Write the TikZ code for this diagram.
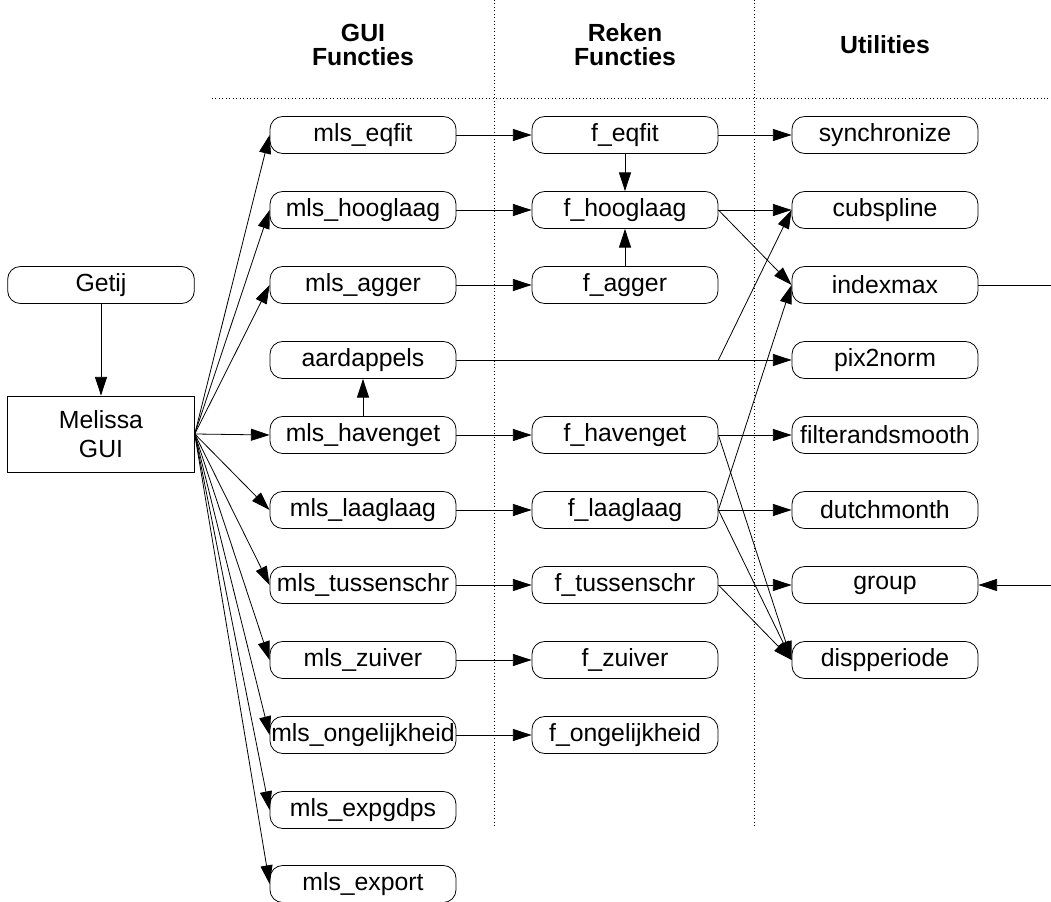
\documentclass[tikz,border=0pt]{standalone}
\usepackage{fontspec}
\setmainfont{Liberation Sans}
\usetikzlibrary{arrows.meta}

\begin{document}
\begin{tikzpicture}[x=0.75pt,y=-0.75pt,
    func/.style = {draw, rounded corners=9.5pt, minimum width=139.5pt,
                minimum height=27.75pt, inner sep=0pt,
                font=\fontsize{18.6}{21}\selectfont},
    arr/.style = {-{Triangle[length=14pt,width=9pt]}},
    colsep/.style = {dotted, line width=0.6pt},
    head/.style = {align=center, font=\fontsize{18.6}{18}\selectfont\bfseries}
                    ]
        \useasboundingbox (0,0) rectangle (1051,902);
        \tikzset{every path/.style={line width=0.6pt}}
        % kolommen
        \draw[colsep] (494,0) -- (494,828);
        \draw[colsep] (754,0) -- (754,828);
        \draw[colsep] (212,98) -- (1051,98);
        \node[head] (hgui) at (363,45) {GUI\\Functies};
        \node[head] (hreken) at (625,45) {Reken\\Functies};
        \node[head] (hutil) at (885,45) {Utilities};
        % links
        \node[func, minimum width=140pt] (getij) at (101,285) {Getij};
        \node[draw, minimum width=140pt, minimum height=57pt, align=center,
              font=\fontsize{18.6}{22}\selectfont] (melissa) at (101,434) {Melissa\\GUI};
        \draw[arr] (getij) -- (melissa);
        % GUI functies
        \foreach \y/\n/\t in {135/mlseqfit/mls\_eqfit, 210/mlshooglaag/mls\_hooglaag,
                285/mlsagger/mls\_agger, 360/aardappels/aardappels,
                435/mlshavenget/mls\_havenget, 510/mlslaaglaag/mls\_laaglaag,
                585/mlstussenschr/mls\_tussenschr, 660/mlszuiver/mls\_zuiver,
                735/mlsongelijkheid/mls\_ongelijkheid, 810/mlsexpgdps/mls\_expgdps,
                884/mlsexport/mls\_export}
            \node[func] at (363,\y) (\n) {\t};
        % reken functies
        \foreach \y/\n/\t in {135/feqfit/f\_eqfit, 210/fhooglaag/f\_hooglaag,
                285/fagger/f\_agger, 435/fhavenget/f\_havenget,
                510/flaaglaag/f\_laaglaag, 585/ftussenschr/f\_tussenschr,
                660/fzuiver/f\_zuiver, 735/fongelijkheid/f\_ongelijkheid}
            \node[func] at (625,\y) (\n) {\t};
        % utilities
        \foreach \y/\n in {135/synchronize, 210/cubspline, 285/indexmax,
                360/pix2norm, 435/filterandsmooth, 510/dutchmonth,
                585/group, 660/dispperiode}
            \node[func] at (885,\y) (\n) {\n};
        % GUI -> functies
        \foreach \n in {mlseqfit, mlshooglaag, mlsagger, mlshavenget, mlslaaglaag,
                mlstussenschr, mlszuiver, mlsongelijkheid, mlsexpgdps, mlsexport}
            \draw[arr] (melissa.east) -- (\n.west);
        \draw[arr] (mlshavenget) -- (aardappels);
        \foreach \g/\f in {mlseqfit/feqfit, mlshooglaag/fhooglaag, mlsagger/fagger,
                mlshavenget/fhavenget, mlslaaglaag/flaaglaag,
                mlstussenschr/ftussenschr, mlszuiver/fzuiver,
                mlsongelijkheid/fongelijkheid}
            \draw[arr] (\g) -- (\f);
        \draw[arr] (feqfit) -- (fhooglaag);
        \draw[arr] (fagger) -- (fhooglaag);
        % functies -> utilities
        \draw[arr] (feqfit) -- (synchronize);
        \draw[arr] (fhooglaag.east) -- (cubspline.west);
        \draw[arr] (fhooglaag.east) -- (indexmax.west);
        \coordinate (split) at (fagger.east |- aardappels.east);
        \draw[arr] (aardappels.east) -- (pix2norm.west);
        \draw[arr] (split) -- (cubspline.west);
        \draw[arr] (fhavenget.east) -- (filterandsmooth.west);
        \draw[arr] (fhavenget.east) -- (dispperiode.west);
        \draw[arr] (flaaglaag.east) -- (indexmax.west);
        \draw[arr] (flaaglaag.east) -- (dutchmonth.west);
        \draw[arr] (flaaglaag.east) -- (dispperiode.west);
        \draw[arr] (ftussenschr.east) -- (group.west);
        \draw[arr] (ftussenschr.east) -- (dispperiode.west);
        % naar buiten
        \coordinate (outidx) at (1051,285);
        \coordinate (ingroup) at (1051,585);
        \draw (indexmax.east) -- (outidx);
        \draw[arr] (ingroup) -- (group.east);
    \end{tikzpicture}
\end{document}
